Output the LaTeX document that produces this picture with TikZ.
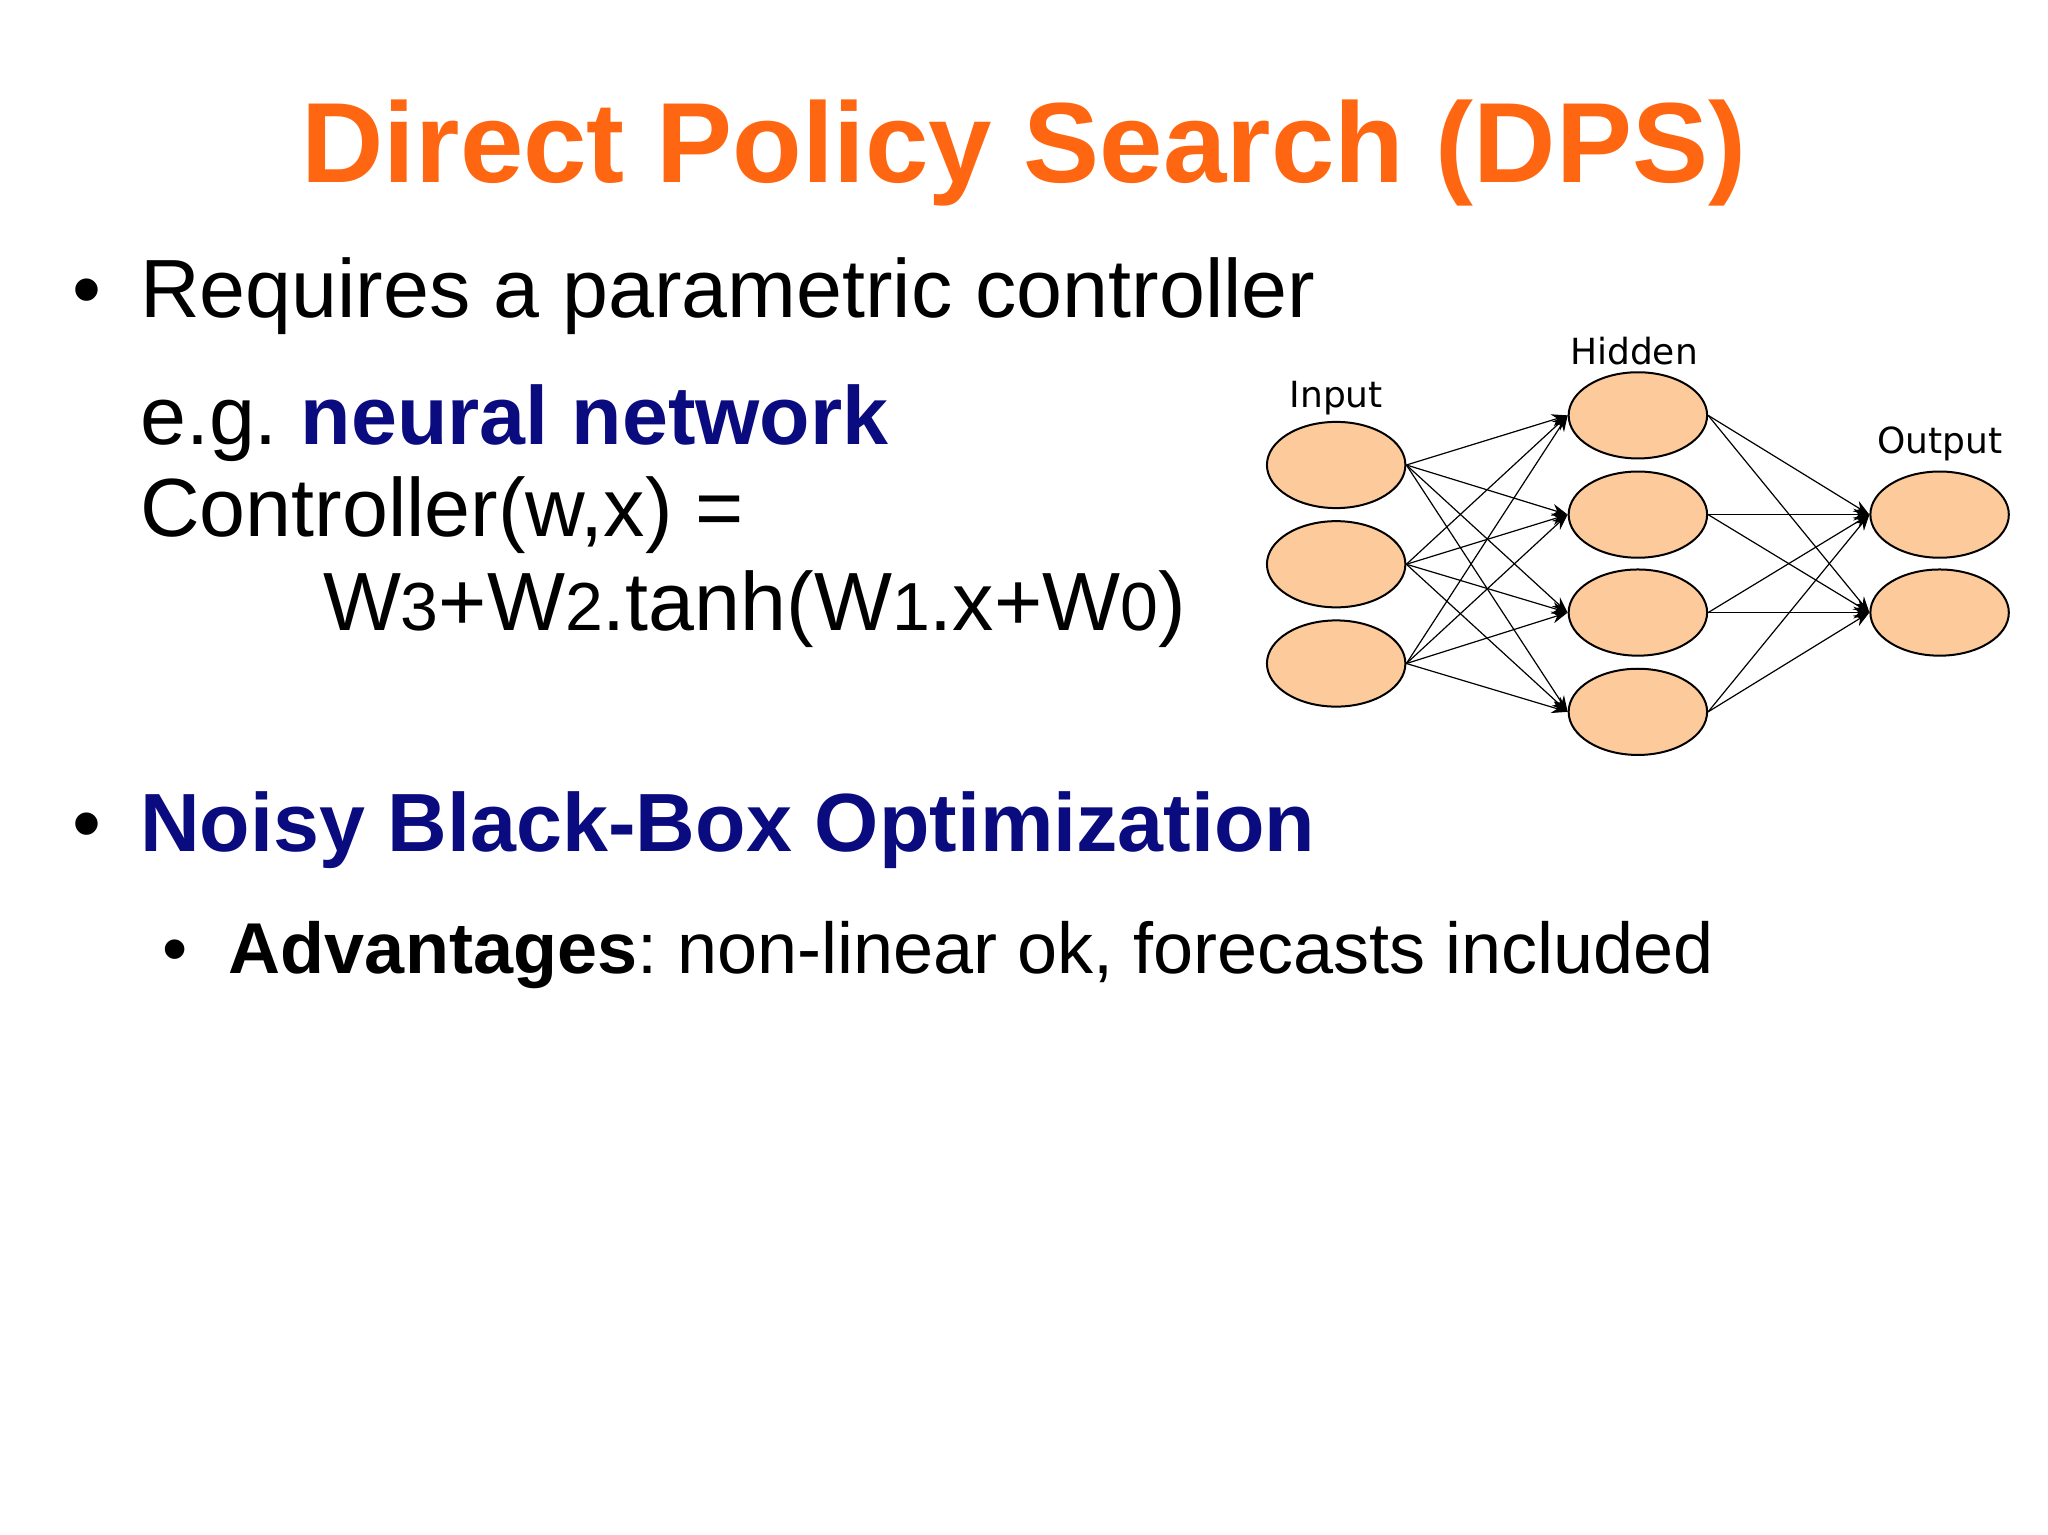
\documentclass[tikz,border=0pt]{standalone}
\usepackage{fontspec}
\setmainfont{Liberation Sans}
\newfontfamily\lbl{DejaVu Sans}
\usetikzlibrary{arrows.meta,shapes.geometric}
\definecolor{ttl}{HTML}{FF6611}
\definecolor{nav}{HTML}{0B0B80}
\definecolor{peach}{HTML}{FDCB9B}
\frenchspacing
\begin{document}
\begin{tikzpicture}[x=0.653pt,y=-0.653pt,
  neuron/.style={draw=black,line width=1pt,fill=peach,ellipse,minimum width=106*0.653pt,minimum height=66*0.653pt,inner sep=0pt},
  txt/.style={anchor=base west,inner sep=0pt},
  edge/.style={-{Stealth[length=8pt,width=6pt]},line width=0.6pt}]
\useasboundingbox[fill=white] (0,0) rectangle (1568,1175.2);
\node[inner sep=0pt,anchor=base,text=ttl,font=\fontsize{57}{60}\selectfont\bfseries] (title) at (784,140) {Direct Policy Search (DPS)};
\node[txt,font=\fontsize{41.3}{44}\selectfont] (b1) at (55,243) {•};
\node[txt,font=\fontsize{41.3}{44}\selectfont] (l1) at (107,243) {Requires a parametric controller};
\node[txt,font=\fontsize{41.3}{44}\selectfont] (l2) at (107,340) {e.g.\ \textcolor{nav}{\bfseries neural network}};
\node[txt,font=\fontsize{41.3}{44}\selectfont] (l3) at (107,411) {Controller(w,x) =};
\node[txt,font=\fontsize{41.3}{44}\selectfont] (l4) at (247,483) {W{\fontsize{34}{36}\selectfont 3}+W{\fontsize{34}{36}\selectfont 2}.tanh(W{\fontsize{34}{36}\selectfont 1}.x+W{\fontsize{34}{36}\selectfont 0})};
\node[txt,font=\fontsize{41.3}{44}\selectfont] (b2) at (55,652) {•};
\node[txt,font=\fontsize{41.3}{44}\selectfont\bfseries,text=nav] (l5) at (107,652) {Noisy Black-Box Optimization};
\node[txt,font=\fontsize{36}{40}\selectfont] (b3) at (124,745) {•};
\node[txt,font=\fontsize{36}{40}\selectfont] (l6) at (175,745) {\textbf{Advantages}: non-linear ok, forecasts included};
\node[font=\lbl\fontsize{18}{20}\selectfont] (tin) at (1023,305) {Input};
\node[font=\lbl\fontsize{18}{20}\selectfont] (thid) at (1251,269) {Hidden};
\node[font=\lbl\fontsize{18}{20}\selectfont] (tout) at (1485,340) {Output};
\foreach \i/\y in {1/356,2/432,3/508} \node[neuron] (i\i) at (1023,\y) {};
\foreach \i/\y in {1/318,2/394,3/469,4/545} \node[neuron] (h\i) at (1254,\y) {};
\foreach \i/\y in {1/394,2/469} \node[neuron] (o\i) at (1485,\y) {};
\foreach \a in {1,2,3}\foreach \b in {1,2,3,4} \draw[edge] (i\a.east) -- (h\b.west);
\foreach \a in {1,2,3,4}\foreach \b in {1,2} \draw[edge] (h\a.east) -- (o\b.west);
\end{tikzpicture}
\end{document}
